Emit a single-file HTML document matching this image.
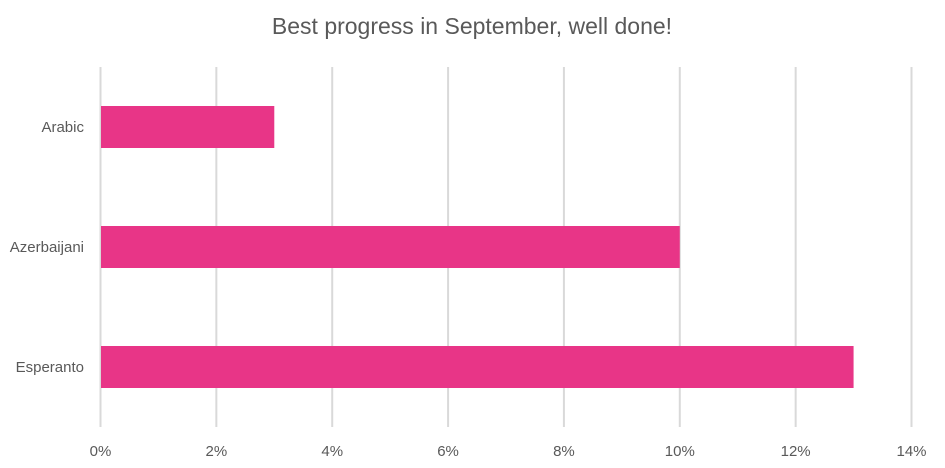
<!DOCTYPE html>
<html><head><meta charset="utf-8"><style>
html,body{margin:0;padding:0;background:#fff;}
svg{display:block;font-family:"Liberation Sans",sans-serif;}
</style></head><body>
<svg id="chart" width="945" height="468">
<text x="472" y="34" text-anchor="middle" font-size="23" fill="#595959">Best progress in September, well done!</text>
<g id="grid"></g><g id="bars"></g><g id="labels"></g>
</svg>
<script>
const categories = ["Arabic","Azerbaijani","Esperanto"];
const values = [3,10,13];
const ticks = [0,2,4,6,8,10,12,14];
const tickLabels = ["0%","2%","4%","6%","8%","10%","12%","14%"];
const ns="http://www.w3.org/2000/svg";
const x0=100.5, x1=911.5, xmax=14, plotTop=67, plotBottom=427;
function xs(v){return x0+(v/xmax)*(x1-x0);}
const band=(plotBottom-plotTop)/categories.length;
function ys(i){return plotTop+band*i+band/2;}
const grid=document.getElementById('grid'), bars=document.getElementById('bars'), labels=document.getElementById('labels');
ticks.forEach((t,i)=>{
  const l=document.createElementNS(ns,'line');
  l.setAttribute('x1',xs(t));l.setAttribute('x2',xs(t));l.setAttribute('y1',plotTop);l.setAttribute('y2',plotBottom);
  l.setAttribute('stroke','#d9d9d9');l.setAttribute('stroke-width','2');
  
  
  grid.appendChild(l);
  const tx=document.createElementNS(ns,'text');
  tx.setAttribute('x',xs(t));tx.setAttribute('y',456);tx.setAttribute('text-anchor','middle');
  tx.setAttribute('font-size','15');tx.setAttribute('fill','#595959');tx.textContent=tickLabels[i];
  
  
  labels.appendChild(tx);
});
categories.forEach((c,i)=>{
  const h=42, y=ys(i)-h/2;
  const r=document.createElementNS(ns,'rect');
  r.setAttribute('x',xs(0)+0.5);r.setAttribute('y',y);r.setAttribute('width',xs(values[i])-xs(0)-0.5);r.setAttribute('height',h);
  r.setAttribute('fill','#E83587');
  
  
  bars.appendChild(r);
  const tx=document.createElementNS(ns,'text');
  tx.setAttribute('x',84);tx.setAttribute('y',ys(i)+5);tx.setAttribute('text-anchor','end');
  tx.setAttribute('font-size','15');tx.setAttribute('fill','#595959');tx.textContent=c;
  
  
  labels.appendChild(tx);
});
</script>
</body></html>
